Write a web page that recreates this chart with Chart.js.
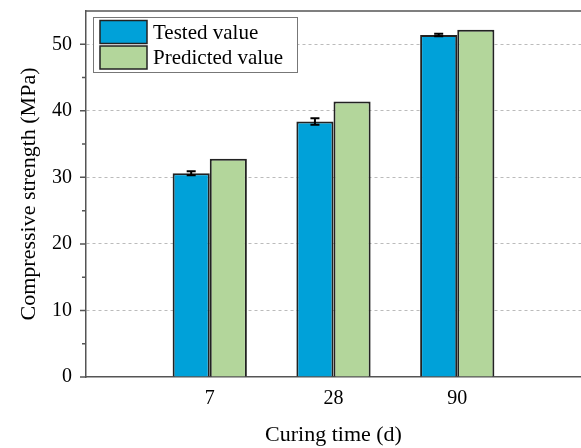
<!DOCTYPE html>
<html>
<head>
<meta charset="utf-8">
<script src="https://cdn.jsdelivr.net/npm/chart.js@4.4.1/dist/chart.umd.min.js"></script>
<style>
  html, body { margin: 0; padding: 0; background: #fff; }
  #wrap { width: 581px; height: 448px; }
</style>
</head>
<body>
<div id="wrap"><canvas id="c" width="581" height="448"></canvas></div>
<script>
// curing ages (empty slots pad the axis by one category each side)
const LABELS = ["", "7", "28", "90", ""];
const TESTED = [null, 30.6, 38.4, 51.4, null];
const TESTED_ERR = [0, 0.3, 0.5, 0.2, 0];
const PREDICTED = [null, 32.8, 41.4, 52.2, null];
const Y_TICKS = [0, 10, 20, 30, 40, 50];

const SERIF = "'Liberation Serif', 'Times New Roman', serif";
const AXIS = "#555";

// error bars on the tested series
const errorBars = {
  id: "errorBars",
  afterDatasetsDraw(chart) {
    const { ctx } = chart;
    const y = chart.scales.y;
    const meta = chart.getDatasetMeta(0);
    ctx.save();
    ctx.strokeStyle = "#000";
    ctx.lineWidth = 2;
    meta.data.forEach((bar, i) => {
      if (TESTED[i] == null) return;
      const hi = y.getPixelForValue(TESTED[i] + TESTED_ERR[i]);
      const lo = y.getPixelForValue(TESTED[i] - TESTED_ERR[i]);
      const x = bar.x, cap = 4.5;
      ctx.beginPath();
      ctx.moveTo(x, hi); ctx.lineTo(x, lo);
      ctx.moveTo(x - cap, hi); ctx.lineTo(x + cap, hi);
      ctx.moveTo(x - cap, lo); ctx.lineTo(x + cap, lo);
      ctx.stroke();
    });
    ctx.restore();
  }
};

// top frame line, y tick marks and the boxed legend
const frame = {
  id: "frame",
  afterDraw(chart) {
    const { ctx, chartArea: a } = chart;
    const y = chart.scales.y;
    ctx.save();
    ctx.strokeStyle = AXIS;
    ctx.lineWidth = 1.5;
    ctx.beginPath();
    ctx.moveTo(a.left, a.top); ctx.lineTo(a.right, a.top);
    for (let v = 0; v <= 50; v += 5) {
      const py = y.getPixelForValue(v);
      const len = v % 10 === 0 ? 6 : 4;
      ctx.moveTo(a.left - len, py); ctx.lineTo(a.left, py);
    }
    ctx.stroke();

    // legend
    const bx = 93, by = 17, bw = 204, bh = 55;
    ctx.fillStyle = "#fff";
    ctx.fillRect(bx, by, bw, bh);
    ctx.strokeStyle = "#777";
    ctx.lineWidth = 1;
    ctx.strokeRect(bx + 0.5, by + 0.5, bw, bh);
    ctx.font = "21px " + SERIF;
    ctx.textBaseline = "alphabetic";
    chart.data.datasets.forEach((ds, i) => {
      const sy = 20.5 + i * 25.5;
      ctx.fillStyle = ds.backgroundColor;
      ctx.fillRect(100, sy, 47, 23);
      ctx.strokeStyle = "#222";
      ctx.lineWidth = 1.5;
      ctx.strokeRect(100, sy, 47, 23);
      ctx.fillStyle = "#000";
      ctx.fillText(ds.label, 153, sy + 18);
    });
    ctx.restore();
  }
};

new Chart(document.getElementById("c"), {
  type: "bar",
  data: {
    labels: LABELS,
    datasets: [
      { label: "Tested value", data: TESTED, backgroundColor: "#00a1d9", borderColor: "#222", borderWidth: 2 },
      { label: "Predicted value", data: PREDICTED, backgroundColor: "#b3d69b", borderColor: "#222", borderWidth: 2 }
    ]
  },
  options: {
    responsive: false,
    animation: false,
    devicePixelRatio: 1,
    layout: { padding: { top: 11, right: 0, left: 10, bottom: 0 } },
    datasets: { bar: { categoryPercentage: 0.6, barPercentage: 1.0 } },
    plugins: { legend: { display: false }, tooltip: { enabled: false } },
    scales: {
      x: {
        offset: false,
        grid: { display: false, drawTicks: false },
        border: { display: true, color: AXIS, width: 1.5 },
        ticks: { color: "#000", font: { family: SERIF, size: 20 }, padding: 10, autoSkip: false, maxRotation: 0 },
        title: { display: true, text: "Curing time (d)", color: "#000", font: { family: SERIF, size: 22 }, padding: { top: 4, bottom: 0 } },
        afterFit(scale) { scale.height = 71; scale.paddingLeft = 0; scale.paddingRight = 0; }
      },
      y: {
        min: 0,
        max: 55,
        afterBuildTicks(scale) { scale.ticks = Y_TICKS.map(v => ({ value: v })); },
        grid: {
          drawTicks: false,
          color: c => (c.tick && c.tick.value > 0 ? "#bbb" : "transparent"),
          lineWidth: 1
        },
        border: { display: true, color: AXIS, width: 1.5, dash: [3, 3], dashOffset: 0 },
        ticks: { color: "#000", font: { family: SERIF, size: 20 }, padding: 14 },
        title: { display: true, text: "Compressive strength (MPa)", color: "#000", font: { family: SERIF, size: 22 }, padding: { top: 6, bottom: 6 } },
        afterFit(scale) { scale.width = 76; scale.paddingTop = 0; scale.paddingBottom = 0; }
      }
    }
  },
  plugins: [errorBars, frame]
});
</script>
</body>
</html>
